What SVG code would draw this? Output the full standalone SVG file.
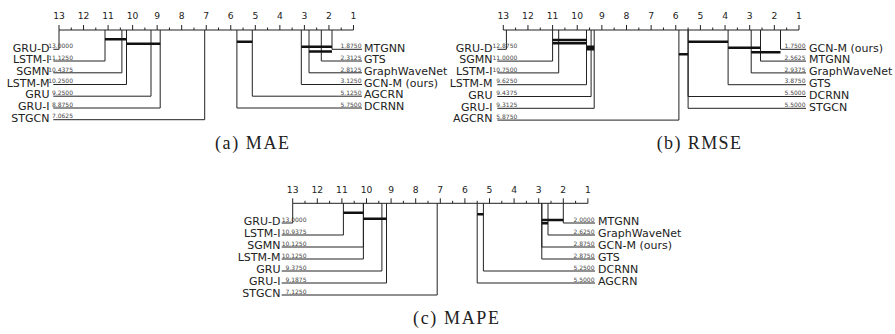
<svg xmlns="http://www.w3.org/2000/svg" width="895" height="334" viewBox="0 0 895 334">
<style>
.ax{stroke:#222;stroke-width:1;fill:none}
.ln{stroke:#222;stroke-width:1;fill:none}
.bar{stroke:#111;stroke-width:2.6;fill:none}
.tk{font-family:"DejaVu Sans",sans-serif;font-size:9.2px;fill:#222;text-anchor:middle}
.lbl{font-family:"DejaVu Sans",sans-serif;font-size:11px;fill:#222}
.l{text-anchor:end}
.r{text-anchor:start}
.val{font-family:"DejaVu Sans",sans-serif;font-size:6px;fill:#444;text-anchor:end}
.cap{font-family:"Liberation Serif",serif;font-size:18px;fill:#222}
</style>
<rect width="895" height="334" fill="#fff"/>

<!-- Panel (a) axis -->
<g id="axis-a">
<path class="ax" d="M59 30H353.48 M59 25V30 M83.54 25V30 M108.08 25V30 M132.62 25V30 M157.16 25V30 M181.7 25V30 M206.24 25V30 M230.78 25V30 M255.32 25V30 M279.86 25V30 M304.4 25V30 M328.94 25V30 M353.48 25V30 M71.27 27.5V30 M95.81 27.5V30 M120.35 27.5V30 M144.89 27.5V30 M169.43 27.5V30 M193.97 27.5V30 M218.51 27.5V30 M243.05 27.5V30 M267.59 27.5V30 M292.13 27.5V30 M316.67 27.5V30 M341.21 27.5V30"/>
<text class="tk" x="59" y="18.5">13</text><text class="tk" x="83.54" y="18.5">12</text><text class="tk" x="108.08" y="18.5">11</text><text class="tk" x="132.62" y="18.5">10</text><text class="tk" x="157.16" y="18.5">9</text><text class="tk" x="181.7" y="18.5">8</text><text class="tk" x="206.24" y="18.5">7</text><text class="tk" x="230.78" y="18.5">6</text><text class="tk" x="255.32" y="18.5">5</text><text class="tk" x="279.86" y="18.5">4</text><text class="tk" x="304.4" y="18.5">3</text><text class="tk" x="328.94" y="18.5">2</text><text class="tk" x="353.48" y="18.5">1</text>
</g>
<g id="a-GRU-D"><path class="ln" d="M59 30V49.3H53.3"/><text class="val" x="73" y="48">13.0000</text><text class="lbl l" x="49.5" y="51.5">GRU-D</text></g>
<g id="a-LSTM-I"><path class="ln" d="M105 30V61H53.3"/><text class="val" x="73" y="59.7">11.1250</text><text class="lbl l" x="49.5" y="63.2">LSTM-I</text></g>
<g id="a-SGMN"><path class="ln" d="M121.9 30V72.8H53.3"/><text class="val" x="73" y="71.5">10.4375</text><text class="lbl l" x="49.5" y="75">SGMN</text></g>
<g id="a-LSTM-M"><path class="ln" d="M126.5 30V84.5H53.3"/><text class="val" x="73" y="83.2">10.2500</text><text class="lbl l" x="49.5" y="86.7">LSTM-M</text></g>
<g id="a-GRU"><path class="ln" d="M151 30V96.2H53.3"/><text class="val" x="73" y="94.9">9.2500</text><text class="lbl l" x="49.5" y="98.4">GRU</text></g>
<g id="a-GRU-I"><path class="ln" d="M160.2 30V108H53.3"/><text class="val" x="73" y="106.7">8.8750</text><text class="lbl l" x="49.5" y="110.2">GRU-I</text></g>
<g id="a-STGCN"><path class="ln" d="M204.7 30V119.7H53.3"/><text class="val" x="73" y="118.4">7.0625</text><text class="lbl l" x="49.5" y="121.9">STGCN</text></g>
<g id="a-MTGNN"><path class="ln" d="M332 30V49.3H362"/><text class="val" x="361.5" y="48">1.8750</text><text class="lbl r" x="364" y="51.5">MTGNN</text></g>
<g id="a-GTS"><path class="ln" d="M321.3 30V61H362"/><text class="val" x="361.5" y="59.7">2.3125</text><text class="lbl r" x="364" y="63.2">GTS</text></g>
<g id="a-GraphWaveNet"><path class="ln" d="M309 30V72.8H362"/><text class="val" x="361.5" y="71.5">2.8125</text><text class="lbl r" x="364" y="75">GraphWaveNet</text></g>
<g id="a-GCN-M"><path class="ln" d="M301.3 30V84.5H362"/><text class="val" x="361.5" y="83.2">3.1250</text><text class="lbl r" x="364" y="86.7">GCN-M (ours)</text></g>
<g id="a-AGCRN"><path class="ln" d="M252.3 30V96.2H362"/><text class="val" x="361.5" y="94.9">5.1250</text><text class="lbl r" x="364" y="98.4">AGCRN</text></g>
<g id="a-DCRNN"><path class="ln" d="M236.9 30V108H362"/><text class="val" x="361.5" y="106.7">5.7500</text><text class="lbl r" x="364" y="110.2">DCRNN</text></g>
<text class="cap" x="215" y="149" textLength="74" lengthAdjust="spacing">(a) MAE</text>

<!-- Panel (b) axis -->
<g id="axis-b">
<path class="ax" d="M503.3 30H798.98 M503.3 25V30 M527.94 25V30 M552.58 25V30 M577.22 25V30 M601.86 25V30 M626.5 25V30 M651.14 25V30 M675.78 25V30 M700.42 25V30 M725.06 25V30 M749.7 25V30 M774.34 25V30 M798.98 25V30 M515.62 27.5V30 M540.26 27.5V30 M564.9 27.5V30 M589.54 27.5V30 M614.18 27.5V30 M638.82 27.5V30 M663.46 27.5V30 M688.1 27.5V30 M712.74 27.5V30 M737.38 27.5V30 M762.02 27.5V30 M786.66 27.5V30"/>
<text class="tk" x="503.3" y="18.5">13</text><text class="tk" x="527.94" y="18.5">12</text><text class="tk" x="552.58" y="18.5">11</text><text class="tk" x="577.22" y="18.5">10</text><text class="tk" x="601.86" y="18.5">9</text><text class="tk" x="626.5" y="18.5">8</text><text class="tk" x="651.14" y="18.5">7</text><text class="tk" x="675.78" y="18.5">6</text><text class="tk" x="700.42" y="18.5">5</text><text class="tk" x="725.06" y="18.5">4</text><text class="tk" x="749.7" y="18.5">3</text><text class="tk" x="774.34" y="18.5">2</text><text class="tk" x="798.98" y="18.5">1</text>
</g>
<g id="b-GRU-D"><path class="ln" d="M506.4 30V49.3H497.3"/><text class="val" x="517.3" y="48">12.8750</text><text class="lbl l" x="492.5" y="51.5">GRU-D</text></g>
<g id="b-SGMN"><path class="ln" d="M552.6 30V61.1H497.3"/><text class="val" x="517.3" y="59.8">11.0000</text><text class="lbl l" x="492.5" y="63.3">SGMN</text></g>
<g id="b-LSTM-I"><path class="ln" d="M558.7 30V72.9H497.3"/><text class="val" x="517.3" y="71.6">10.7500</text><text class="lbl l" x="492.5" y="75.1">LSTM-I</text></g>
<g id="b-LSTM-M"><path class="ln" d="M586.5 30V84.7H497.3"/><text class="val" x="517.3" y="83.4">9.6250</text><text class="lbl l" x="492.5" y="86.9">LSTM-M</text></g>
<g id="b-GRU"><path class="ln" d="M591.1 30V96.5H497.3"/><text class="val" x="517.3" y="95.2">9.4375</text><text class="lbl l" x="492.5" y="98.7">GRU</text></g>
<g id="b-GRU-I"><path class="ln" d="M594.2 30V108.3H497.3"/><text class="val" x="517.3" y="107">9.3125</text><text class="lbl l" x="492.5" y="110.5">GRU-I</text></g>
<g id="b-AGCRN"><path class="ln" d="M678.9 30V120.1H497.3"/><text class="val" x="517.3" y="118.8">5.8750</text><text class="lbl l" x="492.5" y="122.3">AGCRN</text></g>
<g id="b-GCN-M"><path class="ln" d="M780.5 30V49.3H806"/><text class="val" x="805.5" y="48">1.7500</text><text class="lbl r" x="809" y="51.5">GCN-M (ours)</text></g>
<g id="b-MTGNN"><path class="ln" d="M760.5 30V61.1H806"/><text class="val" x="805.5" y="59.8">2.5625</text><text class="lbl r" x="809" y="63.3">MTGNN</text></g>
<g id="b-GraphWaveNet"><path class="ln" d="M751.2 30V72.9H806"/><text class="val" x="805.5" y="71.6">2.9375</text><text class="lbl r" x="809" y="75.1">GraphWaveNet</text></g>
<g id="b-GTS"><path class="ln" d="M728.1 30V84.7H806"/><text class="val" x="805.5" y="83.4">3.8750</text><text class="lbl r" x="809" y="86.9">GTS</text></g>
<g id="b-DCRNN"><path class="ln" d="M688.1 30V96.5H806"/><text class="val" x="805.5" y="95.2">5.5000</text><text class="lbl r" x="809" y="98.7">DCRNN</text></g>
<g id="b-STGCN"><path class="ln" d="M688.1 30V108.3H806"/><text class="val" x="805.5" y="107">5.5000</text><text class="lbl r" x="809" y="110.5">STGCN</text></g>
<text class="cap" x="656.7" y="148.5" textLength="84.3" lengthAdjust="spacing">(b) RMSE</text>

<!-- Panel (c) axis -->
<g id="axis-c">
<path class="ax" d="M292.7 203.3H587.9 M292.7 198.3V203.3 M317.3 198.3V203.3 M341.9 198.3V203.3 M366.5 198.3V203.3 M391.1 198.3V203.3 M415.7 198.3V203.3 M440.3 198.3V203.3 M464.9 198.3V203.3 M489.5 198.3V203.3 M514.1 198.3V203.3 M538.7 198.3V203.3 M563.3 198.3V203.3 M587.9 198.3V203.3 M305 200.8V203.3 M329.6 200.8V203.3 M354.2 200.8V203.3 M378.8 200.8V203.3 M403.4 200.8V203.3 M428 200.8V203.3 M452.6 200.8V203.3 M477.2 200.8V203.3 M501.8 200.8V203.3 M526.4 200.8V203.3 M551 200.8V203.3 M575.6 200.8V203.3"/>
<text class="tk" x="292.7" y="192.5">13</text><text class="tk" x="317.3" y="192.5">12</text><text class="tk" x="341.9" y="192.5">11</text><text class="tk" x="366.5" y="192.5">10</text><text class="tk" x="391.1" y="192.5">9</text><text class="tk" x="415.7" y="192.5">8</text><text class="tk" x="440.3" y="192.5">7</text><text class="tk" x="464.9" y="192.5">6</text><text class="tk" x="489.5" y="192.5">5</text><text class="tk" x="514.1" y="192.5">4</text><text class="tk" x="538.7" y="192.5">3</text><text class="tk" x="563.3" y="192.5">2</text><text class="tk" x="587.9" y="192.5">1</text>
</g>
<g id="c-GRU-D"><path class="ln" d="M292.7 203.3V223H281.7"/><text class="val" x="306.5" y="221.7">13.0000</text><text class="lbl l" x="280.5" y="225.2">GRU-D</text></g>
<g id="c-LSTM-I"><path class="ln" d="M343.4 203.3V235H281.7"/><text class="val" x="306.5" y="233.7">10.9375</text><text class="lbl l" x="280.5" y="237.2">LSTM-I</text></g>
<g id="c-SGMN"><path class="ln" d="M363.4 203.3V247H281.7"/><text class="val" x="306.5" y="245.7">10.1250</text><text class="lbl l" x="280.5" y="249.2">SGMN</text></g>
<g id="c-LSTM-M"><path class="ln" d="M363.4 203.3V259H281.7"/><text class="val" x="306.5" y="257.7">10.1250</text><text class="lbl l" x="280.5" y="261.2">LSTM-M</text></g>
<g id="c-GRU"><path class="ln" d="M381.9 203.3V271H281.7"/><text class="val" x="306.5" y="269.7">9.3750</text><text class="lbl l" x="280.5" y="273.2">GRU</text></g>
<g id="c-GRU-I"><path class="ln" d="M386.5 203.3V283H281.7"/><text class="val" x="306.5" y="281.7">9.1875</text><text class="lbl l" x="280.5" y="285.2">GRU-I</text></g>
<g id="c-STGCN"><path class="ln" d="M437.2 203.3V295H281.7"/><text class="val" x="306.5" y="293.7">7.1250</text><text class="lbl l" x="280.5" y="297.2">STGCN</text></g>
<g id="c-MTGNN"><path class="ln" d="M563.3 203.3V223H595"/><text class="val" x="594.5" y="221.7">2.0000</text><text class="lbl r" x="598" y="225.2">MTGNN</text></g>
<g id="c-GraphWaveNet"><path class="ln" d="M548 203.3V235H595"/><text class="val" x="594.5" y="233.7">2.6250</text><text class="lbl r" x="598" y="237.2">GraphWaveNet</text></g>
<g id="c-GCN-M"><path class="ln" d="M541.8 203.3V247H595"/><text class="val" x="594.5" y="245.7">2.8750</text><text class="lbl r" x="598" y="249.2">GCN-M (ours)</text></g>
<g id="c-GTS"><path class="ln" d="M541.8 203.3V259H595"/><text class="val" x="594.5" y="257.7">2.8750</text><text class="lbl r" x="598" y="261.2">GTS</text></g>
<g id="c-DCRNN"><path class="ln" d="M483.4 203.3V271H595"/><text class="val" x="594.5" y="269.7">5.2500</text><text class="lbl r" x="598" y="273.2">DCRNN</text></g>
<g id="c-AGCRN"><path class="ln" d="M477.2 203.3V283H595"/><text class="val" x="594.5" y="281.7">5.5000</text><text class="lbl r" x="598" y="285.2">AGCRN</text></g>
<text class="cap" x="413" y="324" textLength="86" lengthAdjust="spacing">(c) MAPE</text>

<!-- clique bars -->
<g id="connectors">
<path class="bar" d="M105 39.3H126.5 M126.5 43.7H160.2 M236.9 41.7H252.3 M301.3 46.7H332 M309 51.5H332"/>
<path class="bar" d="M552.6 40H586.5 M552.6 43.3H586.5 M586.5 46.7H594.2 M586.5 49.3H594.2 M688.1 41.7H728.1 M728.1 47.7H760.5 M751.2 52.3H780.5 M678.9 54.3H688.1"/>
<path class="bar" d="M343.4 212.7H363.4 M363.4 218.7H386.5 M477.2 214.3H483.4 M541.8 220H563.3 M541.8 223.3H548"/>
</g>
</svg>
